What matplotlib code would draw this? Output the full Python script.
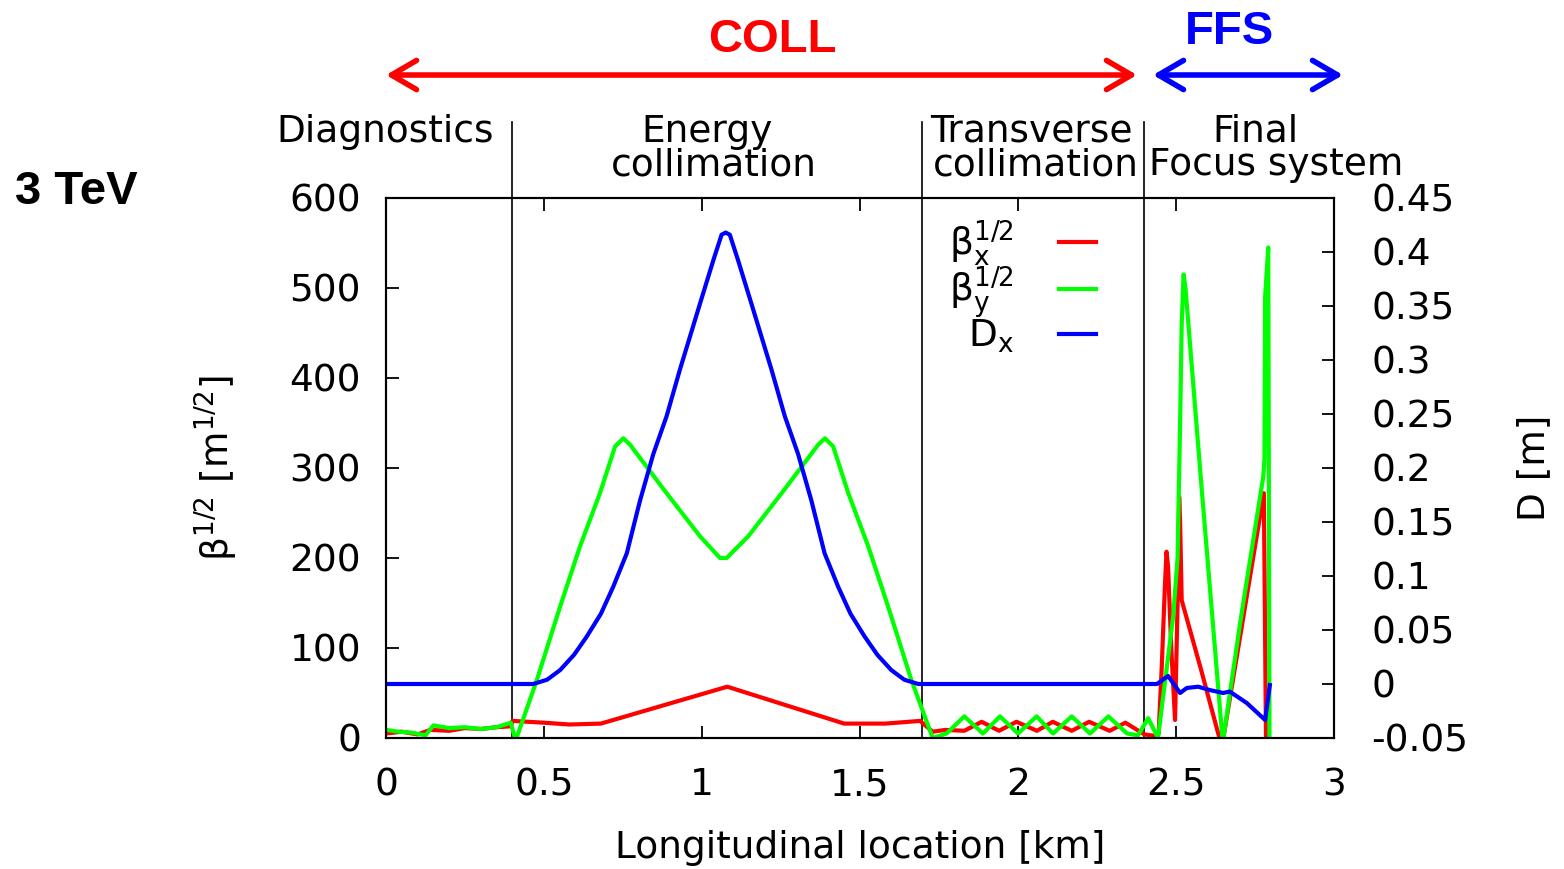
import matplotlib.pyplot as plt

# longitudinal location [km] vs sqrt(beta_x) [m^1/2]
s_bx = [0.0, 0.05, 0.10, 0.14, 0.20, 0.25, 0.30, 0.35, 0.395, 0.40, 0.50, 0.58, 0.68, 1.08,
        1.45, 1.58, 1.69, 1.73, 1.77, 1.83, 1.885, 1.94, 1.995, 2.06, 2.11, 2.17, 2.225, 2.29,
        2.34, 2.40, 2.44, 2.445, 2.455, 2.465, 2.470, 2.475, 2.485, 2.497, 2.505, 2.510, 2.513,
        2.518, 2.53, 2.58, 2.645, 2.671, 2.778, 2.785]
bx = [5, 7, 4, 9, 8, 11, 10, 12, 13, 19, 17, 15, 16, 57,
      16, 16, 19, 7, 9, 8, 18, 8, 18, 8, 18, 8, 18, 8,
      17, 4, 2, 5, 80, 170, 207, 190, 100, 20, 150, 268, 240,
      153, 138, 75, -10, 45, 272, -10]

# sqrt(beta_y) [m^1/2]
s_by = [0.0, 0.04, 0.08, 0.125, 0.15, 0.20, 0.25, 0.30, 0.35, 0.395, 0.41, 0.477, 0.551, 0.614,
        0.677, 0.725, 0.751, 0.772, 0.888, 0.994, 1.057, 1.078, 1.146, 1.252, 1.368, 1.389,
        1.415, 1.463, 1.526, 1.589, 1.663, 1.73, 1.774, 1.83, 1.889, 1.943, 2.0, 2.059, 2.111,
        2.170, 2.228, 2.286, 2.345, 2.38, 2.412, 2.443, 2.491, 2.505, 2.513, 2.518, 2.524,
        2.530, 2.544, 2.581, 2.648, 2.703, 2.776, 2.780, 2.782, 2.792, 2.796]
by = [9, 7, 6, 3, 14, 11, 12, 10, 12, 17, -3, 64, 146, 213,
      272, 324, 333, 326, 272, 224, 200, 200, 224, 272, 326, 333,
      324, 272, 213, 146, 64, 0, 5, 24, 5, 24, 5, 24, 5,
      24, 5, 24, 5, 3, 22, 0, 135, 200, 350, 460, 515,
      500, 439, 278, -5, 128, 290, 310, 490, 545, -20]

# horizontal dispersion [m]
s_dx = [0.0, 0.466, 0.51, 0.551, 0.595, 0.635, 0.68, 0.719, 0.762, 0.804, 0.846, 0.888, 0.930,
        0.994, 1.036, 1.062, 1.075, 1.088, 1.114, 1.156, 1.220, 1.262, 1.304, 1.346, 1.388,
        1.431, 1.47, 1.515, 1.555, 1.599, 1.64, 1.684, 2.44, 2.475, 2.513, 2.534, 2.57, 2.607,
        2.649, 2.67, 2.724, 2.782, 2.797]
dx = [0, 0, 0.004, 0.0129, 0.027, 0.0438, 0.065, 0.090, 0.121, 0.170, 0.213, 0.248, 0.291,
      0.3525, 0.3925, 0.416, 0.418, 0.416, 0.3925, 0.3525, 0.291, 0.248, 0.213, 0.170, 0.121,
      0.090, 0.065, 0.0438, 0.027, 0.0129, 0.004, 0, 0, 0.0074, -0.0083, -0.0037, -0.0025,
      -0.0056, -0.0083, -0.007, -0.0176, -0.0333, -0.001]

# section boundaries [km]
boundaries = [0.398, 1.695, 2.40]

x_ticks = [0, 0.5, 1, 1.5, 2, 2.5, 3]
x_labels = ['0', '0.5', '1', '1.5', '2', '2.5', '3']
y_ticks = [0, 100, 200, 300, 400, 500, 600]
d_ticks = [-0.05, 0, 0.05, 0.1, 0.15, 0.2, 0.25, 0.3, 0.35, 0.4, 0.45]
d_labels = ['-0.05', '0', '0.05', '0.1', '0.15', '0.2', '0.25', '0.3', '0.35', '0.4', '0.45']

plt.rcParams['font.family'] = ['DejaVu Sans']
plt.rcParams['mathtext.default'] = 'regular'
FS = 27

fig = plt.figure(figsize=(15.64, 8.69), dpi=100)
ax = fig.add_axes([386 / 1564, 1 - 738 / 869, 948 / 1564, 540 / 869])
ax2 = ax.twinx()

for b in boundaries:
    ax.axvline(b, ymin=0, ymax=1.14, color='black', lw=1.2, clip_on=False)

l1, = ax.plot(s_bx, bx, color='#ff0000', lw=3, label=r'$\beta_x^{1/2}$')
l2, = ax.plot(s_by, by, color='#00ff00', lw=3, label=r'$\beta_y^{1/2}$')
l3, = ax2.plot(s_dx, dx, color='#0000ff', lw=3, label=r'$D_x$')

ax.set_xlim(0, 3)
ax.set_ylim(0, 600)
ax2.set_ylim(-0.05, 0.45)

ax.set_xticks(x_ticks)
ax.set_xticklabels(x_labels, fontsize=FS)
ax.set_yticks(y_ticks)
ax.set_yticklabels([str(v) for v in y_ticks], fontsize=FS)
ax2.set_yticks(d_ticks)
ax2.set_yticklabels(d_labels, fontsize=FS)

ax.tick_params(axis='x', direction='in', top=True, length=9, width=1.3, pad=21)
ax.tick_params(axis='y', direction='in', right=False, length=9, width=1.3, pad=18)
ax2.tick_params(axis='y', direction='in', length=9, width=1.3, pad=27)
for a in (ax, ax2):
    for sp in a.spines.values():
        sp.set_linewidth(1.5)

ax.set_xlabel('Longitudinal location [km]', fontsize=FS)
ax.xaxis.set_label_coords(0.5, -0.17)
ax.set_ylabel(r'$\beta^{1/2}$ [m$^{1/2}$]', fontsize=FS)
ax.yaxis.set_label_coords(-0.154, 0.5)
ax2.set_ylabel('D [m]', fontsize=FS)
ax2.yaxis.set_label_coords(1.192, 0.5)

ax2.legend(handles=[l1, l2, l3], loc='upper left', bbox_to_anchor=(0.578, 0.99),
           frameon=False, markerfirst=False, fontsize=FS, handlelength=1.0,
           handletextpad=1.2, labelspacing=-0.08, borderaxespad=0)

# section names
fig.text(385 / 1564, 1 - 142 / 869, 'Diagnostics', fontsize=FS, ha='center', va='baseline')
fig.text(707 / 1564, 1 - 142 / 869, 'Energy', fontsize=FS, ha='center', va='baseline')
fig.text(714 / 1564, 1 - 175 / 869, 'collimation', fontsize=FS, ha='center', va='baseline')
fig.text(1031 / 1564, 1 - 142 / 869, 'Transverse', fontsize=FS, ha='center', va='baseline')
fig.text(1036 / 1564, 1 - 175 / 869, 'collimation', fontsize=FS, ha='center', va='baseline')
fig.text(1255 / 1564, 1 - 142 / 869, 'Final', fontsize=FS, ha='center', va='baseline')
fig.text(1276 / 1564, 1 - 175 / 869, 'Focus system', fontsize=FS, ha='center', va='baseline')

bold = dict(fontsize=34, fontweight='bold', family='Liberation Sans', va='baseline')
fig.text(772 / 1564, 1 - 52 / 869, 'COLL', color='#ff0000', ha='center', **bold)
fig.text(1229 / 1564, 1 - 44 / 869, 'FFS', color='#0000ff', ha='center', **bold)
fig.text(15 / 1564, 1 - 204 / 869, '3 TeV', color='black', ha='left', **bold)

arrow_y = 1 - 75 / 869
for x0, x1, c in [(386, 1137, '#ff0000'), (1153, 1343, '#0000ff')]:
    fig.add_artist(plt.matplotlib.patches.FancyArrowPatch(
        (x0 / 1564, arrow_y), (x1 / 1564, arrow_y), transform=fig.transFigure,
        arrowstyle='<->,head_length=1.2,head_width=0.7', mutation_scale=15,
        color=c, lw=4, shrinkA=0, shrinkB=0))

fig.savefig('out.png', dpi=100)
